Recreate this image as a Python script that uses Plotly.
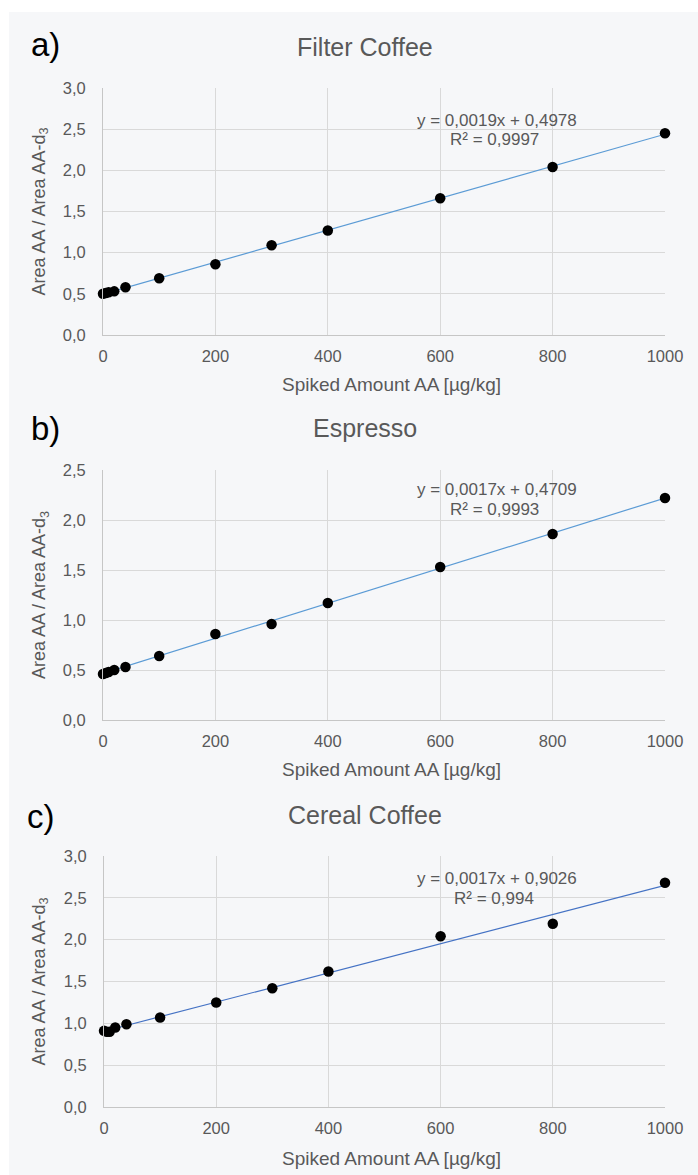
import numpy as np
import plotly.graph_objects as go

W, H = 698, 1175

# ---- data ----
x_amount = [0, 5, 10, 20, 40, 100, 200, 300, 400, 600, 800, 1000]
filter_ratio = [0.50, 0.51, 0.52, 0.53, 0.58, 0.69, 0.86, 1.09, 1.27, 1.66, 2.04, 2.45]
espresso_ratio = [0.46, 0.47, 0.48, 0.50, 0.53, 0.64, 0.86, 0.96, 1.17, 1.53, 1.86, 2.22]
cereal_ratio = [0.91, 0.90, 0.90, 0.95, 0.99, 1.07, 1.25, 1.42, 1.62, 2.04, 2.19, 2.68]
series = [filter_ratio, espresso_ratio, cereal_ratio]

titles = ["Filter Coffee", "Espresso", "Cereal Coffee"]
letters = ["a)", "b)", "c)"]
slopes = [0.0019, 0.0017, 0.0017]
intercepts = [0.4978, 0.4709, 0.9026]
r_squared = [0.9997, 0.9993, 0.994]
y_max = [3.0, 2.5, 3.0]

x_ticks = [0, 200, 400, 600, 800, 1000]
x_tick_labels = ["0", "200", "400", "600", "800", "1000"]
y_ticks = [0.0, 0.5, 1.0, 1.5, 2.0, 2.5, 3.0]
y_tick_labels = ["0,0", "0,5", "1,0", "1,5", "2,0", "2,5", "3,0"]

x_title = "Spiked Amount AA [µg/kg]"
y_title = "Area AA / Area AA-d<sub>3</sub>"

# ---- layout (pixel geometry) ----
BG = "#f6f7f9"
TXT = "#595959"
FONT = "Liberation Sans, Arial, sans-serif"
line_colors = ["#5b9bd5", "#5b9bd5", "#4472c4"]
panels = [
    dict(left=103, right=665, top=88, bottom=335, title=47, letter=45, eq=120, lx=46, xt=384),
    dict(left=103, right=665, top=470, bottom=720, title=428, letter=429, eq=490, lx=46, xt=770),
    dict(left=104, right=665, top=856, bottom=1107, title=815, letter=816, eq=878, lx=41, xt=1158),
]


def px(x):
    return x / W


def py(y):
    return 1 - y / H


fig = go.Figure()
annotations = []
for i, p in enumerate(panels):
    xa = "x" if i == 0 else f"x{i+1}"
    ya = "y" if i == 0 else f"y{i+1}"
    ys = series[i]
    coef = np.polyfit(x_amount, ys, 1)
    fx = np.array([x_amount[0], x_amount[-1]])
    fig.add_trace(go.Scatter(x=fx, y=np.polyval(coef, fx), mode="lines",
                             line=dict(color=line_colors[i], width=1.2),
                             xaxis=xa, yaxis=ya, showlegend=False, hoverinfo="skip"))
    fig.add_trace(go.Scatter(x=x_amount, y=ys, mode="markers",
                             marker=dict(color="black", size=10.5),
                             xaxis=xa, yaxis=ya, showlegend=False, cliponaxis=False))
    n = int(round(y_max[i] / 0.5)) + 1
    axis_common = dict(showgrid=True, gridcolor="#d9d9d9", gridwidth=1,
                       zeroline=False, showline=True, linecolor="#c6c6c6",
                       ticks="", tickfont=dict(family=FONT, size=16.5, color=TXT),
                       fixedrange=True, automargin=False)
    cx = (p["left"] + p["right"]) / 2
    fig.layout[("xaxis" if i == 0 else f"xaxis{i+1}")] = dict(
        domain=[px(p["left"]), px(p["right"])], anchor=ya, range=[0, 1000],
        tickmode="array", tickvals=x_ticks, ticktext=x_tick_labels,
        ticklabelstandoff=6, **axis_common)
    fig.layout[("yaxis" if i == 0 else f"yaxis{i+1}")] = dict(
        domain=[py(p["bottom"]), py(p["top"])], anchor=xa, range=[0, y_max[i]],
        tickmode="array", tickvals=y_ticks[:n], ticktext=y_tick_labels[:n],
        ticklabelstandoff=13, **axis_common)

    annotations.append(dict(text=letters[i], x=px(p["lx"]), y=py(p["letter"]), xref="paper", yref="paper",
                            showarrow=False, xanchor="center", yanchor="middle",
                            font=dict(family=FONT, size=33, color="black")))
    annotations.append(dict(text=titles[i], x=px(365), y=py(p["title"]), xref="paper", yref="paper",
                            showarrow=False, xanchor="center", yanchor="middle",
                            font=dict(family=FONT, size=25, color=TXT)))
    eq = f"y = {str(slopes[i]).replace('.', ',')}x + {str(intercepts[i]).replace('.', ',')}"
    r2 = f"R² = {str(r_squared[i]).replace('.', ',')}"
    annotations.append(dict(text=eq, x=px(497), y=py(p["eq"]), xref="paper", yref="paper",
                            showarrow=False, xanchor="center", yanchor="middle",
                            font=dict(family=FONT, size=17, color=TXT)))
    annotations.append(dict(text=r2, x=px(494), y=py(p["eq"] + 20), xref="paper", yref="paper",
                            showarrow=False, xanchor="center", yanchor="middle",
                            font=dict(family=FONT, size=17, color=TXT)))
    annotations.append(dict(text=x_title, x=px(cx + 7), y=py(p["xt"]),
                            xref="paper", yref="paper", showarrow=False,
                            xanchor="center", yanchor="middle",
                            font=dict(family=FONT, size=19, color=TXT)))
    annotations.append(dict(text=y_title, x=px(40), y=py((p["top"] + p["bottom"]) / 2),
                            xref="paper", yref="paper", showarrow=False, textangle=-90,
                            xanchor="center", yanchor="middle",
                            font=dict(family=FONT, size=18, color=TXT)))

fig.update_layout(
    width=W, height=H, margin=dict(l=0, r=0, t=0, b=0, pad=0, autoexpand=False),
    paper_bgcolor="white", plot_bgcolor="rgba(0,0,0,0)",
    annotations=annotations,
    shapes=[dict(type="rect", xref="paper", yref="paper", x0=px(9), x1=1, y0=0, y1=py(12),
                 fillcolor=BG, line=dict(width=0), layer="below")],
)

fig.write_html("out.html", config={"displayModeBar": False},
               post_script="document.body.style.margin='0';document.body.style.overflow='hidden';")
